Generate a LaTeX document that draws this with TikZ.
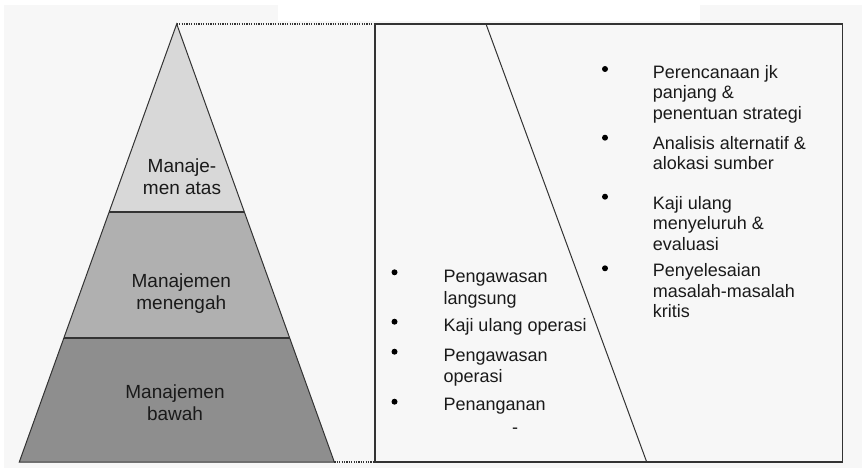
\documentclass[tikz,border=0pt]{standalone}
\usepackage{fontspec}
\setmainfont{Liberation Sans}
\usetikzlibrary{calc}
\definecolor{panel}{HTML}{F7F7F7}
\definecolor{tierA}{HTML}{D8D8D8}
\definecolor{tierB}{HTML}{B0B0B0}
\definecolor{tierC}{HTML}{8E8E8E}
\definecolor{ink}{HTML}{1A1A1A}
\definecolor{rule}{HTML}{333333}
\begin{document}
\begin{tikzpicture}[x=1pt,y=-1pt,
  outline/.style={draw=rule,line width=1pt,line join=miter},
  tierline/.style={draw=rule,line width=2pt},
  guide/.style={draw=rule,line width=1.1pt,dash pattern=on 1.2pt off 1.2pt},
  frame/.style={draw=rule,line width=1.5pt},
  slant/.style={draw=rule,line width=1pt},
  bulletdot/.style={circle,fill=black,inner sep=0pt,minimum size=6pt},
  tiertext/.style={inner sep=0pt,align=center,text=ink,anchor=base,font=\fontsize{19}{21.7}\selectfont},
  itemtext/.style={inner sep=0pt,align=left,text=ink,anchor=base west,font=\fontsize{18}{20.5}\selectfont},
  itemtextwide/.style={itemtext,font=\fontsize{18}{21.8}\selectfont}]
% page and backdrop
\useasboundingbox (0,0) rectangle (862,468);
\fill[panel] (4,5) rectangle (862,468);
\fill[white] (278,0) rectangle (700,21);

% pyramid corners and tier boundaries
\coordinate (apex) at (176.7,24);
\coordinate (bl) at (19.3,462);
\coordinate (br) at (334.3,462);
\coordinate (l1) at ($(apex)!0.4285!(bl)$);
\coordinate (r1) at ($(apex)!0.4285!(br)$);
\coordinate (l2) at ($(apex)!0.716!(bl)$);
\coordinate (r2) at ($(apex)!0.716!(br)$);

% tiers
\fill[tierA] (apex) -- (r1) -- (l1) -- cycle;
\fill[tierB] (l1) -- (r1) -- (r2) -- (l2) -- cycle;
\fill[tierC] (l2) -- (r2) -- (br) -- (bl) -- cycle;
\draw[outline] (apex) -- (br) -- (bl) -- cycle;
\draw[tierline] (l1) -- (r1);
\draw[tierline] (l2) -- (r2);

% tier labels (placed by the baseline of their last line)
\node[tiertext] (top) at (182,194) {Manaje-\\men atas};
\node[tiertext] (mid) at (181.3,309.6) {Manajemen\\menengah};
\node[tiertext] (low) at (175,420) {Manajemen\\bawah};

% activity box with its slanted divider
\coordinate (boxtl) at (375,24);
\coordinate (boxbl) at (375,462);
\coordinate (boxbr) at (842.7,462);
\coordinate (divtop) at (486,24);
\coordinate (divbot) at (646.7,462);
\draw[guide] (apex) -- (boxtl);
\draw[guide] (br) -- (boxbl);
\draw[frame] (boxtl) rectangle (boxbr);
\draw[slant] (divtop) -- (divbot);

% upper-level activities (placed by the baseline of their last line)
\node[bulletdot] (u1) at (605,69) {};
\node[itemtext] (ut1) at (652.7,119.3) {Perencanaan jk\\panjang \&\\penentuan strategi};
\node[bulletdot] (u2) at (605,137.7) {};
\node[itemtext] (ut2) at (652.7,169.5) {Analisis alternatif \&\\alokasi sumber};
\node[bulletdot] (u3) at (605,196.7) {};
\node[itemtext] (ut3) at (652.7,250.3) {Kaji ulang\\menyeluruh \&\\evaluasi};
\node[bulletdot] (u4) at (605,268.3) {};
\node[itemtext] (ut4) at (652.7,317.9) {Penyelesaian\\masalah-masalah\\kritis};

% lower-level activities
\node[bulletdot] (d1) at (394.5,272.3) {};
\node[itemtextwide] (dt1) at (443.3,304.5) {Pengawasan\\langsung};
\node[bulletdot] (d2) at (394.5,321.7) {};
\node[itemtextwide] (dt2) at (443.3,331) {Kaji ulang operasi};
\node[bulletdot] (d3) at (394.5,351.7) {};
\node[itemtextwide] (dt3) at (443.3,382.8) {Pengawasan\\operasi};
\node[bulletdot] (d4) at (394.5,401.7) {};
\node[itemtextwide] (dt4) at (443.3,410) {Penanganan};
\node[itemtext,anchor=base] (dash) at (515,433) {-};
\end{tikzpicture}
\end{document}
